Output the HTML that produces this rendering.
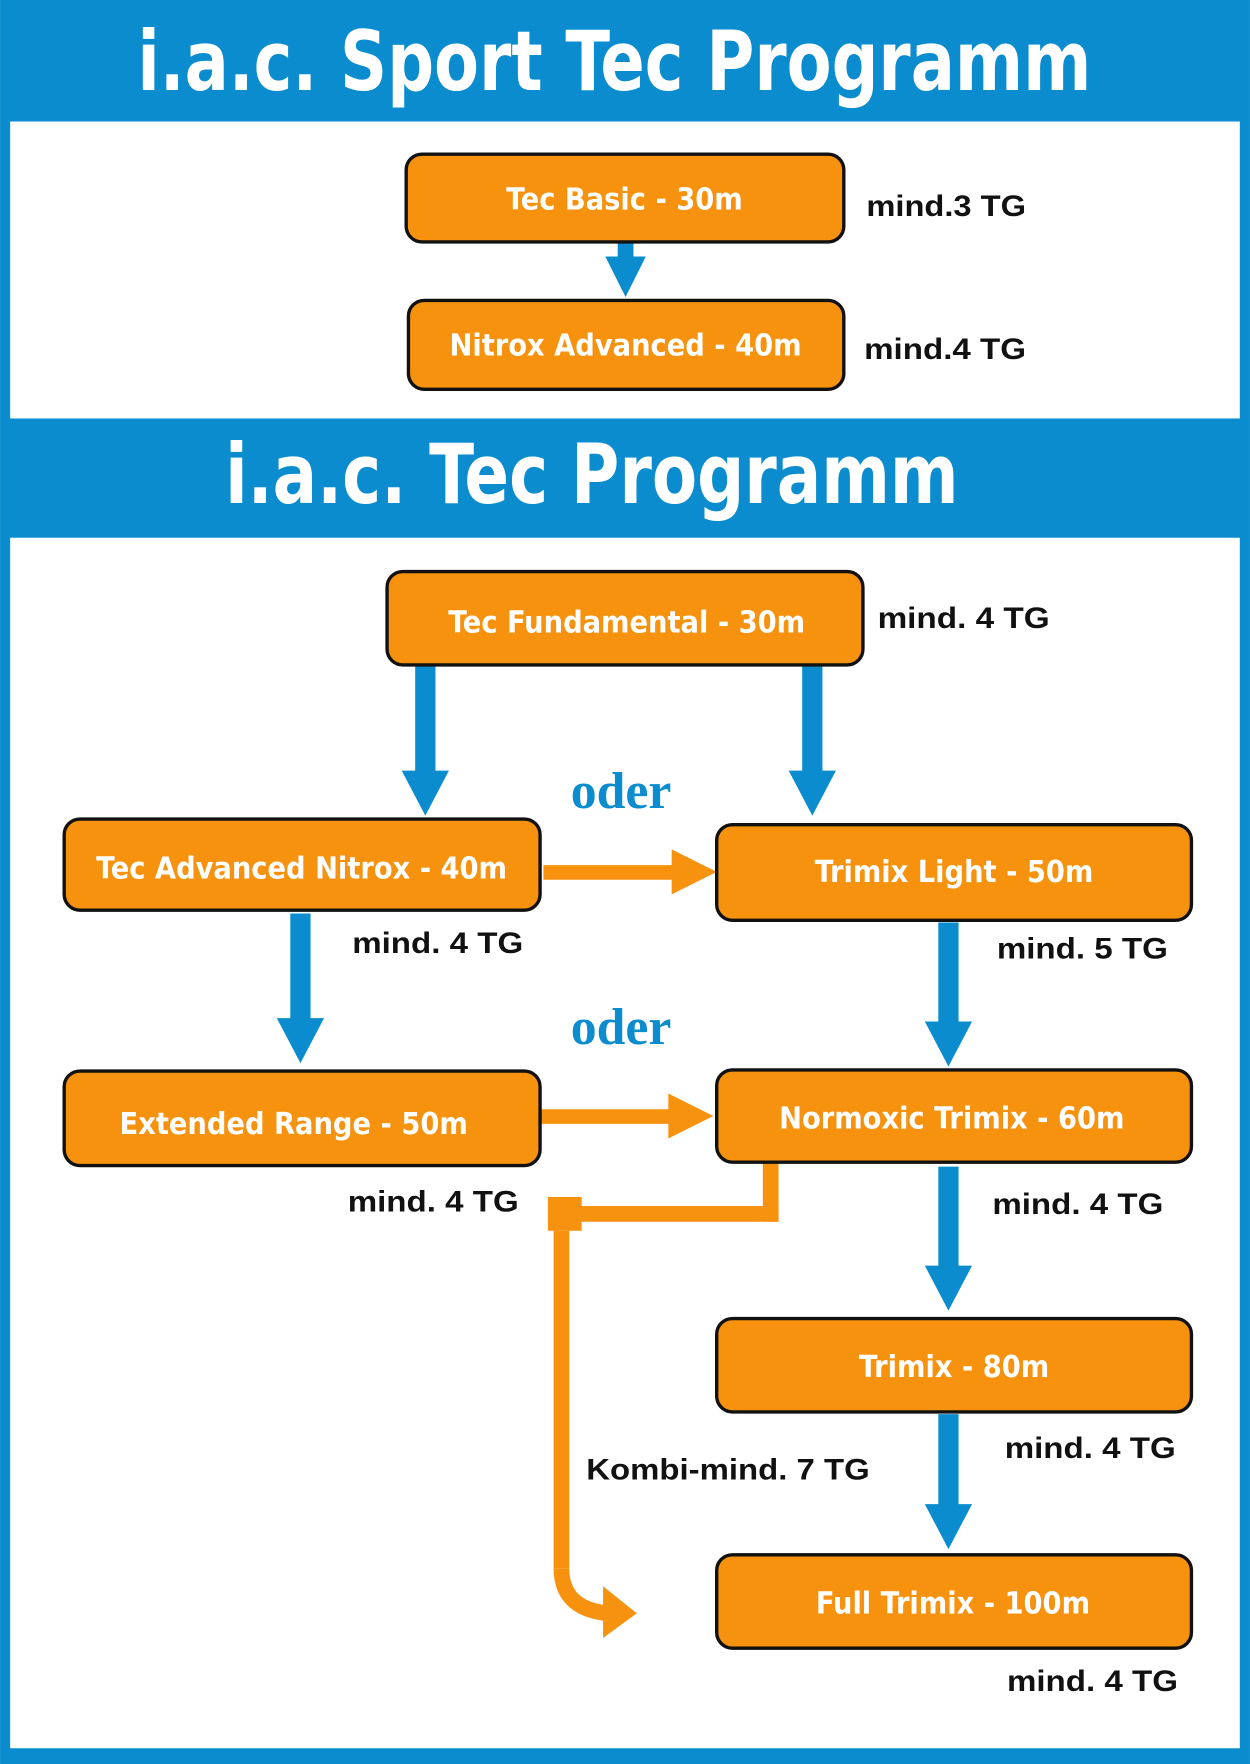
<!DOCTYPE html>
<html><head><meta charset="utf-8"><style>
html,body{margin:0;padding:0;background:#fff;}
svg{display:block;}
.t{font-family:"DejaVu Sans Condensed","Liberation Sans Narrow","Liberation Sans",sans-serif;font-weight:bold;fill:#fff;}
.b{font-family:"DejaVu Sans Condensed","Liberation Sans Narrow","Liberation Sans",sans-serif;font-weight:bold;fill:#fff;font-size:27px;}
.m{font-family:"Liberation Sans",sans-serif;font-weight:bold;fill:#111;font-size:26px;}
.o{font-family:"Liberation Serif",serif;font-weight:bold;fill:#0a8ccf;font-size:46px;}
</style></head><body>
<svg width="1250" height="1764" viewBox="0 0 1111 1568" xmlns="http://www.w3.org/2000/svg">
<rect x="0" y="0" width="1111" height="1568" fill="#0a8ccf"/>
<rect x="9" y="108" width="1093" height="264" fill="#fff"/>
<rect x="9" y="478" width="1093" height="1076" fill="#fff"/>
<text class="t" x="122" y="80" font-size="74" textLength="848" lengthAdjust="spacingAndGlyphs">i.a.c. Sport Tec Programm</text>
<text class="t" x="200" y="447" font-size="74" textLength="652" lengthAdjust="spacingAndGlyphs">i.a.c. Tec Programm</text>

<g fill="#0a8ccf">
<rect x="549" y="215" width="14" height="16"/><polygon points="538,228 574,228 556,264"/>
<rect x="369" y="592" width="18" height="95"/><polygon points="357,685 399,685 378,725"/>
<rect x="713" y="592" width="18" height="95"/><polygon points="701,685 743,685 722,725"/>
<rect x="258" y="812" width="18" height="95"/><polygon points="246,905 288,905 267,945"/>
<rect x="834" y="820" width="18" height="90"/><polygon points="822,908 864,908 843,948"/>
<rect x="834" y="1037" width="18" height="90"/><polygon points="822,1125 864,1125 843,1165"/>
<rect x="834" y="1257" width="18" height="82"/><polygon points="822,1337 864,1337 843,1377"/>
</g>
<g fill="#f7920e">
<rect x="483" y="769" width="118" height="13"/><polygon points="597,755 637,775 597,795"/>
<rect x="480" y="986" width="118" height="13"/><polygon points="594,972 634,992 594,1012"/>
<rect x="678" y="1034" width="14" height="52"/>
<rect x="500" y="1072" width="192" height="14"/>
<rect x="487" y="1064" width="30" height="30"/>
<rect x="492" y="1094" width="14" height="300"/>
<path d="M499,1394 Q499,1430 540,1434" stroke="#f7920e" stroke-width="14" fill="none"/>
<polygon points="536,1410 566,1434 536,1456"/>
</g>

<g stroke="#111" stroke-width="3" fill="#f7920e">
<rect x="361" y="137" width="389" height="78" rx="14"/>
<rect x="363" y="267" width="387" height="79" rx="14"/>
<rect x="344" y="508" width="423" height="83" rx="14"/>
<rect x="57" y="728" width="423" height="81" rx="14"/>
<rect x="637" y="733" width="422" height="85" rx="14"/>
<rect x="57" y="952" width="423" height="84" rx="14"/>
<rect x="637" y="951" width="422" height="82" rx="14"/>
<rect x="637" y="1172" width="422" height="83" rx="14"/>
<rect x="637" y="1382" width="422" height="83" rx="14"/>
</g>
<g text-anchor="middle">
<text class="b" x="555" y="186">Tec Basic - 30m</text>
<text class="b" x="556" y="316">Nitrox Advanced - 40m</text>
<text class="b" x="557" y="562">Tec Fundamental - 30m</text>
<text class="b" x="268" y="781">Tec Advanced Nitrox - 40m</text>
<text class="b" x="848" y="784">Trimix Light - 50m</text>
<text class="b" x="261" y="1008">Extended Range - 50m</text>
<text class="b" x="846" y="1003">Normoxic Trimix - 60m</text>
<text class="b" x="848" y="1224">Trimix - 80m</text>
<text class="b" x="847" y="1434">Full Trimix - 100m</text>
<text class="o" x="552" y="718">oder</text>
<text class="o" x="552" y="928">oder</text>
</g>
<g lengthAdjust="spacingAndGlyphs">
<text class="m" x="770" y="192" textLength="142" lengthAdjust="spacingAndGlyphs">mind.3 TG</text>
<text class="m" x="768" y="319" textLength="144" lengthAdjust="spacingAndGlyphs">mind.4 TG</text>
<text class="m" x="780" y="558" textLength="153" lengthAdjust="spacingAndGlyphs">mind. 4 TG</text>
<text class="m" x="313" y="847" textLength="152" lengthAdjust="spacingAndGlyphs">mind. 4 TG</text>
<text class="m" x="886" y="852" textLength="152" lengthAdjust="spacingAndGlyphs">mind. 5 TG</text>
<text class="m" x="309" y="1077" textLength="152" lengthAdjust="spacingAndGlyphs">mind. 4 TG</text>
<text class="m" x="882" y="1079" textLength="152" lengthAdjust="spacingAndGlyphs">mind. 4 TG</text>
<text class="m" x="893" y="1296" textLength="152" lengthAdjust="spacingAndGlyphs">mind. 4 TG</text>
<text class="m" x="521" y="1315" textLength="252" lengthAdjust="spacingAndGlyphs">Kombi-mind. 7 TG</text>
<text class="m" x="895" y="1503" textLength="152" lengthAdjust="spacingAndGlyphs">mind. 4 TG</text>
</g>
</svg>
</body></html>
